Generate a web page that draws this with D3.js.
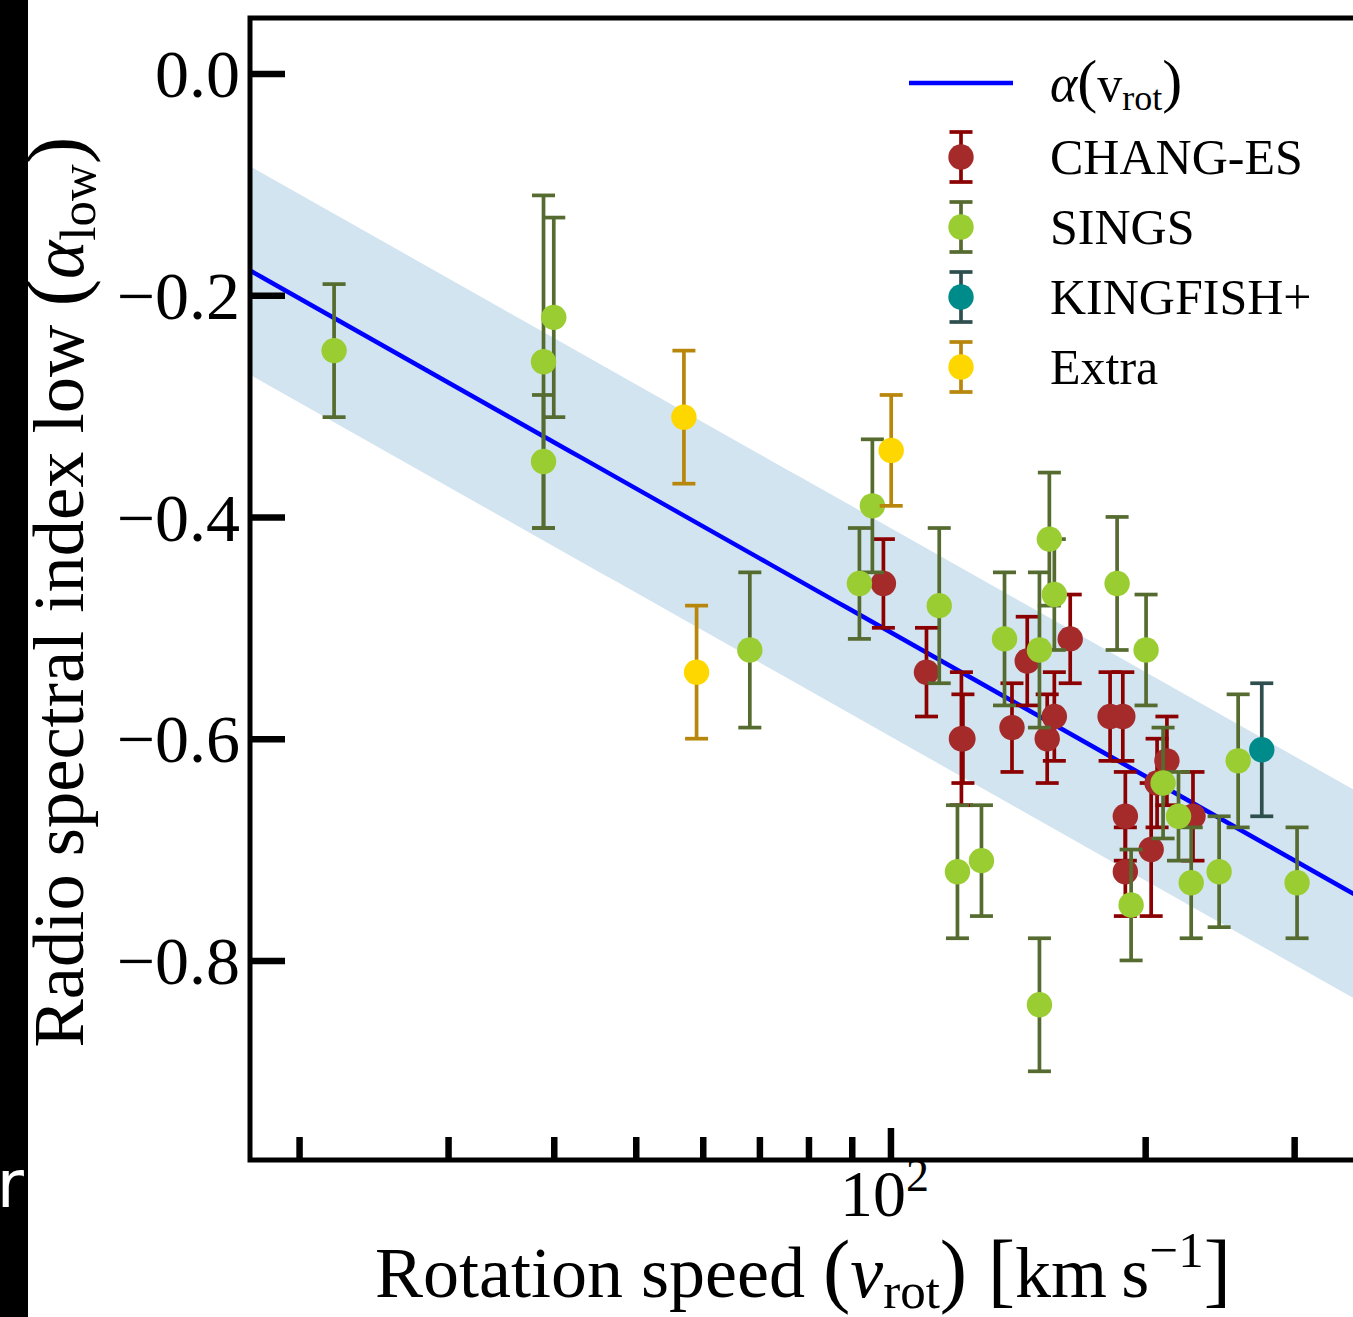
<!DOCTYPE html>
<html><head><meta charset="utf-8">
<script src="https://cdn.jsdelivr.net/npm/d3@7"></script>
<style>
body{margin:0;background:#fff;}
svg{display:block;}
</style>
</head><body>
<svg id="c" width="1353" height="1317" font-family="Liberation Serif, Times New Roman, serif"></svg>
<script>
// ---------------- data ----------------
const seriesNames = ["CHANG-ES", "SINGS", "KINGFISH+", "Extra"];

const changesV = [98.1, 110.3, 121.3, 121.8, 139.2, 145.1, 153.2, 156.2, 163.1, 181.8, 188.2, 189.5, 189.5, 203.3, 206.6, 212.2, 227.8];
const changesA = [-0.46, -0.54, -0.60, -0.60, -0.59, -0.53, -0.60, -0.58, -0.51, -0.58, -0.58, -0.67, -0.72, -0.70, -0.64, -0.62, -0.67];
const changesE = [0.04, 0.04, 0.06, 0.04, 0.04, 0.04, 0.04, 0.04, 0.04, 0.04, 0.04, 0.04, 0.04, 0.06, 0.04, 0.04, 0.04];

const singsV = [22.0, 38.9, 38.9, 40.0, 68.2, 91.9, 95.2, 114.2, 120.0, 128.1, 136.4, 150.0, 150.0, 154.1, 156.2, 185.3, 192.5, 200.5, 210.0, 219.0, 226.7, 244.6, 257.6, 302.4];
const singsA = [-0.25, -0.26, -0.35, -0.22, -0.52, -0.46, -0.39, -0.48, -0.72, -0.71, -0.51, -0.52, -0.84, -0.42, -0.47, -0.46, -0.75, -0.52, -0.64, -0.67, -0.73, -0.72, -0.62, -0.73];
const singsE = [0.06, 0.15, 0.06, 0.09, 0.07, 0.05, 0.06, 0.07, 0.06, 0.05, 0.06, 0.07, 0.06, 0.06, 0.05, 0.06, 0.05, 0.05, 0.05, 0.04, 0.05, 0.05, 0.06, 0.05];

const kingfishV = [274.7];
const kingfishA = [-0.61];
const kingfishE = [0.06];

const extraV = [57.0, 59.0, 100.2];
const extraA = [-0.31, -0.54, -0.34];
const extraE = [0.06, 0.06, 0.05];

// fit alpha(v) = fitIntercept + fitSlope * log10(v), band +- fitBand
const fitIntercept = 0.358;
const fitSlope = -0.431;
const fitBand = 0.094;

const yTickValues = [0.0, -0.2, -0.4, -0.6, -0.8];
const xMajorTicks = [100];
const xMinorTicks = [20, 30, 40, 50, 60, 70, 80, 90, 200, 300];

// ---------------- layout ----------------
const W = 1353, H = 1317;
const L = 250, R = 1356, T = 18, B = 1160;
const SERIF = "Liberation Serif, Times New Roman, serif";
const svg = d3.select("#c");
svg.append("rect").attr("width", W).attr("height", H).attr("fill", "#fff");

const x = d3.scaleLog().domain([17.5, 355]).range([L, R]);
const y = d3.scaleLinear().domain([-0.98, 0.05]).range([B, T]);

svg.append("defs").append("clipPath").attr("id", "clip")
  .append("rect").attr("x", L).attr("y", T).attr("width", R - L).attr("height", B - T);

const plot = svg.append("g").attr("clip-path", "url(#clip)");

// band + line
const vGrid = d3.range(0, 101).map(i => Math.pow(10, Math.log10(17.5) + i * (Math.log10(355) - Math.log10(17.5)) / 100));
const fit = v => fitIntercept + fitSlope * Math.log10(v);
plot.append("path")
  .datum(vGrid)
  .attr("d", d3.area().x(v => x(v)).y0(v => y(fit(v) - fitBand)).y1(v => y(fit(v) + fitBand)))
  .attr("fill", "rgba(31,119,180,0.2)");
plot.append("path")
  .datum(vGrid)
  .attr("d", d3.line().x(v => x(v)).y(v => y(fit(v))))
  .attr("fill", "none").attr("stroke", "#0000ff").attr("stroke-width", 4.5);

const styles = [
  {mk: "#a52a2a", ec: "#8b0000"},
  {mk: "#9acd32", ec: "#556b2f"},
  {mk: "#008b8b", ec: "#2f4f4f"},
  {mk: "#ffd700", ec: "#b8860b"}
];
const seriesData = [
  [changesV, changesA, changesE],
  [singsV, singsA, singsE],
  [kingfishV, kingfishA, kingfishE],
  [extraV, extraA, extraE]
];
const CAP = 11.5, EW = 3.7, MR = 12.7;

seriesData.forEach((s, si) => {
  const pts = s[0].map((v, i) => ({v: v, a: s[1][i], e: s[2][i]}));
  const g = plot.append("g");
  const st = styles[si];
  pts.forEach(p => {
    const px = x(p.v);
    g.append("line").attr("x1", px).attr("x2", px).attr("y1", y(p.a + p.e)).attr("y2", y(p.a - p.e))
      .attr("stroke", st.ec).attr("stroke-width", EW);
    [p.a + p.e, p.a - p.e].forEach(c => {
      g.append("line").attr("x1", px - CAP).attr("x2", px + CAP).attr("y1", y(c)).attr("y2", y(c))
        .attr("stroke", st.ec).attr("stroke-width", EW);
    });
  });
  g.selectAll("circle").data(pts).enter().append("circle")
    .attr("cx", p => x(p.v)).attr("cy", p => y(p.a)).attr("r", MR).attr("fill", st.mk);
});

// ---------------- axes ----------------
const yAxis = d3.axisLeft(y).tickValues(yTickValues).tickSize(-35).tickPadding(10)
  .tickFormat(d => (d < 0 ? "\u2212" : "") + Math.abs(d).toFixed(1));
const gy = svg.append("g").attr("transform", `translate(${L},0)`).call(yAxis);
gy.attr("font-family", SERIF).attr("font-size", 68);
gy.select(".domain").remove();
gy.selectAll(".tick line").attr("stroke", "#000").attr("stroke-width", 6.5);
gy.selectAll(".tick text").attr("fill", "#000").attr("dy", "0.34em");

const xMajor = d3.axisBottom(x).tickValues(xMajorTicks).tickSize(-32).tickFormat("");
const gxM = svg.append("g").attr("transform", `translate(0,${B})`).call(xMajor);
gxM.select(".domain").remove();
gxM.selectAll(".tick line").attr("stroke", "#000").attr("stroke-width", 6.5);

const xMinor = d3.axisBottom(x).tickValues(xMinorTicks).tickSize(-23).tickFormat("");
const gxm = svg.append("g").attr("transform", `translate(0,${B})`).call(xMinor);
gxm.select(".domain").remove();
gxm.selectAll(".tick line").attr("stroke", "#000").attr("stroke-width", 6.5);

// 10^2 label
xMajorTicks.forEach(t => {
  const tx = svg.append("text").attr("x", x(t) - 6).attr("y", 1216).attr("text-anchor", "middle").attr("font-size", 66);
  tx.append("tspan").text("10");
  tx.append("tspan").attr("font-size", 46).attr("dy", -25).text(Math.round(Math.log10(t)));
});

// spines
const spine = svg.append("g").attr("stroke", "#000").attr("stroke-width", 5).attr("fill", "none");
spine.append("path").attr("d", `M${L},${T}H${R}V${B}H${L}Z`);

// rich text helper
function rich(textSel, parts) {
  let prev = 0;
  parts.forEach(p => {
    const ts = textSel.append("tspan").text(p.t).attr("font-size", p.size);
    const sh = p.shift || 0;
    if (sh !== prev) ts.attr("dy", sh - prev);
    prev = sh;
    if (p.it) ts.attr("font-style", "italic");
  });
}

// x label
const xl = svg.append("text").attr("x", 803).attr("y", 1297).attr("text-anchor", "middle");
rich(xl, [
  {t: "Rotation speed ", size: 72},
  {t: "(", size: 82},
  {t: "v", size: 74, it: true},
  {t: "rot", size: 51, shift: 11},
  {t: ")", size: 82, shift: 0},
  {t: " [", size: 82},
  {t: "km\u2009s", size: 72},
  {t: "\u22121", size: 51, shift: -30},
  {t: "]", size: 82, shift: 0}
]);

// y label
const yl = svg.append("text").attr("transform", `translate(83,${(T + B) / 2 + 3}) rotate(-90)`).attr("text-anchor", "middle");
rich(yl, [
  {t: "Radio spectral index low ", size: 72.5},
  {t: "(", size: 83},
  {t: "\u03b1", size: 73, it: true},
  {t: "low", size: 51, shift: 12},
  {t: ")", size: 83, shift: 0}
]);

// legend
const lg = svg.append("g");
const lgX = 961, lgText = 1050;
lg.append("line").attr("x1", 909).attr("x2", 1013).attr("y1", 83).attr("y2", 83)
  .attr("stroke", "#0000ff").attr("stroke-width", 4.5);
const lt = lg.append("text").attr("x", lgText).attr("y", 101);
rich(lt, [
  {t: "\u03b1", size: 52, it: true},
  {t: "(", size: 60},
  {t: "v", size: 50},
  {t: "rot", size: 36, shift: 9},
  {t: ")", size: 60, shift: 0}
]);
seriesNames.forEach((n, i) => {
  const cy = 157 + i * 70;
  const st = styles[i];
  lg.append("line").attr("x1", lgX).attr("x2", lgX).attr("y1", cy - 25).attr("y2", cy + 25).attr("stroke", st.ec).attr("stroke-width", EW);
  [cy - 25, cy + 25].forEach(c => lg.append("line").attr("x1", lgX - CAP).attr("x2", lgX + CAP).attr("y1", c).attr("y2", c).attr("stroke", st.ec).attr("stroke-width", EW));
  lg.append("circle").attr("cx", lgX).attr("cy", cy).attr("r", MR).attr("fill", st.mk);
  lg.append("text").attr("x", lgText).attr("y", cy + 17).attr("font-size", 50).text(n);
});

// left dark strip
svg.append("rect").attr("x", 0).attr("y", 0).attr("width", 28).attr("height", H).attr("fill", "#000");
svg.append("text").attr("x", 24).attr("y", 1207).attr("text-anchor", "end")
  .attr("font-family", "DejaVu Sans, sans-serif").attr("font-size", 66).attr("fill", "#fff").text("r");
</script>
</body></html>
